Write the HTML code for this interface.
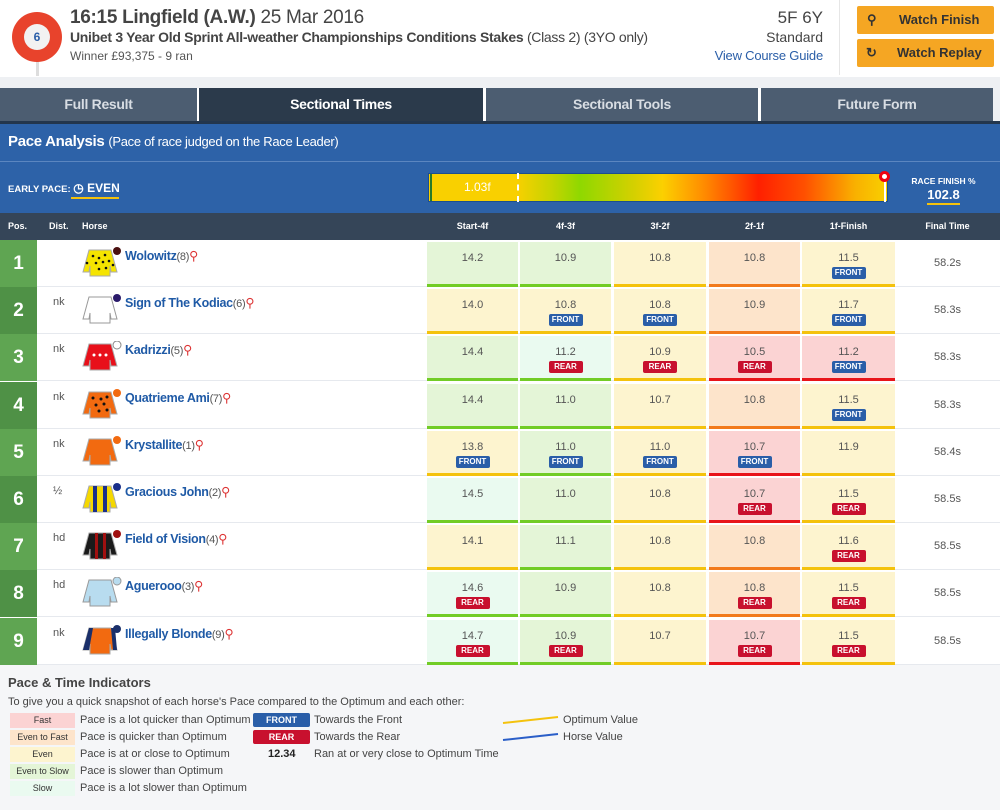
<!DOCTYPE html>
<html><head><meta charset="utf-8">
<style>
*{margin:0;padding:0;box-sizing:border-box}
body{width:1000px;height:810px;position:relative;background:#fff;font-family:"Liberation Sans",sans-serif;overflow:hidden;color:#333}
.a{position:absolute}
.tab{position:absolute;top:88px;height:33px;background:#4c5d71;color:#d8dde3;font-weight:bold;font-size:14px;text-align:center;line-height:33px;letter-spacing:-0.3px}
.hd{position:absolute;top:213px;height:27px;line-height:27px;color:#fff;font-size:9px;font-weight:bold;text-align:center}
.row{position:absolute;left:0;width:1000px;height:47px;background:#fff;border-bottom:1px solid #e6e9ee}
.pos{position:absolute;left:0;top:0;width:37px;height:47px;color:#fff;font-weight:bold;font-size:19px;text-align:center;line-height:47px}
.dst{position:absolute;left:53px;top:9px;font-size:11px;color:#555}
.nm{position:absolute;left:125px;top:8px;font-size:12.5px;font-weight:bold;color:#1f5aa6;letter-spacing:-0.3px}
.nm span{font-weight:normal;color:#555;font-size:11px}
.nm i{font-style:normal;color:#d33;font-weight:normal}
.silk{position:absolute;left:81px;top:7px}
.c{position:absolute;top:2px;height:45px;font-size:11px;color:#555;text-align:center;padding-top:10px}
.c b{display:block;margin:3px auto 0;width:34px;height:12px;line-height:12px;font-size:8px;color:#fff;border-radius:2px}
.F{background:#2a5ea8}.R{background:#c8102e}
.fast{background:#fbd3d3;border-bottom:3px solid #e8141a}
.etf{background:#fde4cb;border-bottom:3px solid #f27a1c}
.ev{background:#fdf4cf;border-bottom:3px solid #f4c20d}
.ets{background:#e4f5d7;border-bottom:3px solid #72cc26}
.sl{background:#eafaf0;border-bottom:3px solid #72cc26}
.ft{position:absolute;left:895px;width:105px;top:17px;text-align:center;font-size:11px;color:#555}
.k1{left:427px;width:91px}.k2{left:520px;width:91px}.k3{left:614px;width:92px}.k4{left:709px;width:91px}.k5{left:802px;width:93px}
.lg{position:absolute;font-size:11px;color:#444}
.lb{position:absolute;left:10px;width:65px;height:15px;font-size:9px;text-align:center;line-height:15px;color:#333}
</style></head><body>
<!-- header -->
<div class="a" style="left:36px;top:40px;width:3px;height:36px;background:#ddd"></div>
<div class="a" style="left:12px;top:12px;width:50px;height:50px;border-radius:50%;background:#e8432c"></div>
<div class="a" style="left:24px;top:24px;width:26px;height:26px;border-radius:50%;background:#f2f2f2;color:#2a5ea8;font-weight:bold;font-size:12px;text-align:center;line-height:26px">6</div>
<div class="a" style="left:70px;top:7px;font-size:19px;color:#444;letter-spacing:-0.3px"><b>16:15 Lingfield (A.W.)</b> 25 Mar 2016</div>
<div class="a" style="left:70px;top:29px;font-size:14px;color:#444;letter-spacing:-0.3px"><b>Unibet 3 Year Old Sprint All-weather Championships Conditions Stakes</b> (Class 2) (3YO only)</div>
<div class="a" style="left:70px;top:49px;font-size:12px;color:#555">Winner £93,375 - 9 ran</div>
<div class="a" style="right:177px;top:8px;font-size:17px;color:#444;text-align:right">5F 6Y</div>
<div class="a" style="right:177px;top:29px;font-size:14px;color:#444;text-align:right">Standard</div>
<div class="a" style="right:177px;top:48px;font-size:13px;color:#2a5ea8;text-align:right;letter-spacing:-0.2px">View Course Guide</div>
<div class="a" style="left:839px;top:0;width:1px;height:75px;background:#e6e6e6"></div>
<div class="a" style="left:857px;top:6px;width:137px;height:28px;background:#f5a623;border-radius:2px;font-weight:bold;font-size:13px;color:#333;line-height:28px"><span style="position:absolute;left:10px">⚲</span><span style="position:absolute;left:42px">Watch Finish</span></div>
<div class="a" style="left:857px;top:39px;width:137px;height:28px;background:#f5a623;border-radius:2px;font-weight:bold;font-size:13px;color:#333;line-height:28px"><span style="position:absolute;left:9px">↻</span><span style="position:absolute;left:40px">Watch Replay</span></div>
<div class="a" style="left:0;top:77px;width:1000px;height:11px;background:#eef0f3"></div>
<!-- tabs -->
<div class="tab" style="left:0;width:197px">Full Result</div>
<div class="tab" style="left:199px;width:284px;background:#2b3a4b;color:#fff">Sectional Times</div>
<div class="tab" style="left:486px;width:272px">Sectional Tools</div>
<div class="tab" style="left:761px;width:232px">Future Form</div>
<div class="a" style="left:993px;top:88px;width:7px;height:33px;background:#eef0f3"></div>
<!-- blue -->
<div class="a" style="left:0;top:121px;width:1000px;height:92px;background:#2d62a8"></div>
<div class="a" style="left:0;top:121px;width:1000px;height:3px;background:#23364d"></div>
<div class="a" style="left:0;top:161px;width:1000px;height:1px;background:#5b86c0"></div>
<div class="a" style="left:8px;top:133px;color:#fff;font-size:15px;letter-spacing:-0.3px"><b>Pace Analysis</b> <span style="font-size:13px">(Pace of race judged on the Race Leader)</span></div>
<div class="a" style="left:8px;top:181px;color:#fff;font-size:9.5px;font-weight:bold">EARLY PACE: <span style="font-size:12px">&#9719; EVEN</span></div>
<div class="a" style="left:71px;top:197px;width:48px;height:2px;background:#f4c20d"></div>
<div class="a" style="left:428px;top:173px;width:460px;height:29px;border:1px solid #1d4f8e;background:linear-gradient(to right,#f9d000 0%,#f9d000 19%,#c4d400 27%,#8fd800 33%,#d6d000 45%,#fcd000 51%,#ff8c00 60%,#ff2000 72%,#ff5000 82%,#f9b000 93%,#f9d000 100%)"></div>
<div class="a" style="left:517px;top:173px;width:0;height:29px;border-left:2px dashed #fff"></div>
<div class="a" style="left:464px;top:180px;color:#fff;font-size:12px">1.03f</div>
<div class="a" style="left:430px;top:174px;width:10px;height:27px;border-left:2px solid #2a7a2a"></div>
<div class="a" style="left:884px;top:174px;width:2px;height:28px;background:#fff"></div>
<div class="a" style="left:879px;top:171px;width:11px;height:11px;border-radius:50%;background:#fff;border:3px solid #e01"></div>
<div class="a" style="left:905px;top:176px;width:77px;color:#fff;font-size:8.5px;font-weight:bold;text-align:center">RACE FINISH %</div>
<div class="a" style="left:905px;top:187px;width:77px;color:#fff;font-size:13px;font-weight:bold;text-align:center">102.8</div>
<div class="a" style="left:927px;top:203px;width:33px;height:2px;background:#f4c20d"></div>
<!-- table header -->
<div class="a" style="left:0;top:213px;width:1000px;height:27px;background:#354558"></div>
<div class="hd" style="left:8px">Pos.</div>
<div class="hd" style="left:49px">Dist.</div>
<div class="hd" style="left:82px">Horse</div>
<div class="hd k1">Start-4f</div><div class="hd k2">4f-3f</div><div class="hd k3">3f-2f</div><div class="hd k4">2f-1f</div><div class="hd k5">1f-Finish</div>
<div class="hd" style="left:895px;width:105px">Final Time</div>

<div class="row" style="top:240px"><div class="pos" style="background:#5fa552">1</div>
<svg class="silk" width="42" height="30"><path d="M8 3h22l6 22h-6l-1-6v10H9V19l-1 6H2z" fill="#f5e400" stroke="#aaa"/><circle cx="36" cy="4" r="4" fill="#4a1010"/><g fill="#111"><circle cx="12" cy="9" r="1.3"/><circle cx="18" cy="11" r="1.3"/><circle cx="24" cy="8" r="1.3"/><circle cx="15" cy="16" r="1.3"/><circle cx="22" cy="15" r="1.3"/><circle cx="28" cy="14" r="1.3"/><circle cx="18" cy="22" r="1.3"/><circle cx="25" cy="21" r="1.3"/><circle cx="6" cy="16" r="1.3"/><circle cx="32" cy="18" r="1.3"/></g></svg>
<div class="nm">Wolowitz<span>(8)</span><i>⚲</i></div>
<div class="c k1 ets">14.2</div><div class="c k2 ets">10.9</div><div class="c k3 ev">10.8</div><div class="c k4 etf">10.8</div><div class="c k5 ev">11.5<b class="F">FRONT</b></div><div class="ft">58.2s</div></div>

<div class="row" style="top:287px"><div class="pos" style="background:#4f9146">2</div><div class="dst">nk</div>
<svg class="silk" width="42" height="30"><path d="M8 3h22l6 22h-6l-1-6v10H9V19l-1 6H2z" fill="#fff" stroke="#999"/><circle cx="36" cy="4" r="4" fill="#2a1a6a"/></svg>
<div class="nm">Sign of The Kodiac<span>(6)</span><i>⚲</i></div>
<div class="c k1 ev">14.0</div><div class="c k2 ev">10.8<b class="F">FRONT</b></div><div class="c k3 ev">10.8<b class="F">FRONT</b></div><div class="c k4 etf">10.9</div><div class="c k5 ev">11.7<b class="F">FRONT</b></div><div class="ft">58.3s</div></div>

<div class="row" style="top:334px"><div class="pos" style="background:#5fa552">3</div><div class="dst">nk</div>
<svg class="silk" width="42" height="30"><path d="M8 3h22l6 22h-6l-1-6v10H9V19l-1 6H2z" fill="#e8101a" stroke="#aaa"/><circle cx="36" cy="4" r="4" fill="#fff" stroke="#888"/><g fill="#fff"><circle cx="13" cy="14" r="1.5"/><circle cx="19" cy="14" r="1.5"/><circle cx="25" cy="14" r="1.5"/></g></svg>
<div class="nm">Kadrizzi<span>(5)</span><i>⚲</i></div>
<div class="c k1 ets">14.4</div><div class="c k2 sl">11.2<b class="R">REAR</b></div><div class="c k3 ev">10.9<b class="R">REAR</b></div><div class="c k4 fast">10.5<b class="R">REAR</b></div><div class="c k5 fast">11.2<b class="F">FRONT</b></div><div class="ft">58.3s</div></div>

<div class="row" style="top:382px"><div class="pos" style="background:#4f9146">4</div><div class="dst">nk</div>
<svg class="silk" width="42" height="30"><path d="M8 3h22l6 22h-6l-1-6v10H9V19l-1 6H2z" fill="#f26a10" stroke="#aaa"/><circle cx="36" cy="4" r="4" fill="#f26a10"/><g fill="#111"><circle cx="12" cy="9" r="1.5"/><circle cx="20" cy="10" r="1.5"/><circle cx="26" cy="8" r="1.5"/><circle cx="15" cy="16" r="1.5"/><circle cx="23" cy="15" r="1.5"/><circle cx="18" cy="22" r="1.5"/><circle cx="26" cy="21" r="1.5"/></g></svg>
<div class="nm">Quatrieme Ami<span>(7)</span><i>⚲</i></div>
<div class="c k1 ets">14.4</div><div class="c k2 ets">11.0</div><div class="c k3 ev">10.7</div><div class="c k4 etf">10.8</div><div class="c k5 ev">11.5<b class="F">FRONT</b></div><div class="ft">58.3s</div></div>

<div class="row" style="top:429px"><div class="pos" style="background:#5fa552">5</div><div class="dst">nk</div>
<svg class="silk" width="42" height="30"><path d="M8 3h22l6 22h-6l-1-6v10H9V19l-1 6H2z" fill="#f26a10" stroke="#aaa"/><circle cx="36" cy="4" r="4" fill="#f26a10"/></svg>
<div class="nm">Krystallite<span>(1)</span><i>⚲</i></div>
<div class="c k1 ev">13.8<b class="F">FRONT</b></div><div class="c k2 ets">11.0<b class="F">FRONT</b></div><div class="c k3 ev">11.0<b class="F">FRONT</b></div><div class="c k4 fast">10.7<b class="F">FRONT</b></div><div class="c k5 ev">11.9</div><div class="ft">58.4s</div></div>

<div class="row" style="top:476px"><div class="pos" style="background:#4f9146">6</div><div class="dst">½</div>
<svg class="silk" width="42" height="30"><path d="M8 3h22l6 22h-6l-1-6v10H9V19l-1 6H2z" fill="#f5d800" stroke="#aaa"/><path d="M12 3h4v26h-4zM22 3h4v26h-4z" fill="#1a2f8a"/><circle cx="36" cy="4" r="4" fill="#1a2f8a"/></svg>
<div class="nm">Gracious John<span>(2)</span><i>⚲</i></div>
<div class="c k1 sl">14.5</div><div class="c k2 ets">11.0</div><div class="c k3 ev">10.8</div><div class="c k4 fast">10.7<b class="R">REAR</b></div><div class="c k5 ev">11.5<b class="R">REAR</b></div><div class="ft">58.5s</div></div>

<div class="row" style="top:523px"><div class="pos" style="background:#5fa552">7</div><div class="dst">hd</div>
<svg class="silk" width="42" height="30"><path d="M8 3h22l6 22h-6l-1-6v10H9V19l-1 6H2z" fill="#1a1a1a" stroke="#aaa"/><path d="M14 3h3v26h-3zM22 3h3v26h-3z" fill="#a01010"/><circle cx="36" cy="4" r="4" fill="#a01010"/></svg>
<div class="nm">Field of Vision<span>(4)</span><i>⚲</i></div>
<div class="c k1 ev">14.1</div><div class="c k2 ets">11.1</div><div class="c k3 ev">10.8</div><div class="c k4 etf">10.8</div><div class="c k5 ev">11.6<b class="R">REAR</b></div><div class="ft">58.5s</div></div>

<div class="row" style="top:570px"><div class="pos" style="background:#4f9146">8</div><div class="dst">hd</div>
<svg class="silk" width="42" height="30"><path d="M8 3h22l6 22h-6l-1-6v10H9V19l-1 6H2z" fill="#b8dcef" stroke="#999"/><circle cx="36" cy="4" r="4" fill="#b8dcef" stroke="#999"/></svg>
<div class="nm">Aguerooo<span>(3)</span><i>⚲</i></div>
<div class="c k1 sl">14.6<b class="R">REAR</b></div><div class="c k2 ets">10.9</div><div class="c k3 ev">10.8</div><div class="c k4 etf">10.8<b class="R">REAR</b></div><div class="c k5 ev">11.5<b class="R">REAR</b></div><div class="ft">58.5s</div></div>

<div class="row" style="top:618px"><div class="pos" style="background:#5fa552">9</div><div class="dst">nk</div>
<svg class="silk" width="42" height="30"><path d="M8 3h22l6 22h-6l-1-6v10H9V19l-1 6H2z" fill="#f26a10" stroke="#aaa"/><path d="M2 25l6-22h4L8 25zM30 3h4l2 22h-4z" fill="#1a2f6a"/><circle cx="36" cy="4" r="4" fill="#1a2f6a"/></svg>
<div class="nm">Illegally Blonde<span>(9)</span><i>⚲</i></div>
<div class="c k1 sl">14.7<b class="R">REAR</b></div><div class="c k2 ets">10.9<b class="R">REAR</b></div><div class="c k3 ev">10.7</div><div class="c k4 fast">10.7<b class="R">REAR</b></div><div class="c k5 ev">11.5<b class="R">REAR</b></div><div class="ft">58.5s</div></div>

<!-- legend -->
<div class="a" style="left:0;top:665px;width:1000px;height:145px;background:#f5f6f8"></div>
<div class="lg" style="left:8px;top:675px;font-size:13px;font-weight:bold;color:#444">Pace &amp; Time Indicators</div>
<div class="lg" style="left:8px;top:696px">To give you a quick snapshot of each horse's Pace compared to the Optimum and each other:</div>
<div class="lb" style="top:713px;background:#fbd3d3">Fast</div><div class="lg" style="left:80px;top:714px">Pace is a lot quicker than Optimum</div>
<div class="lb" style="top:730px;background:#fde4cb">Even to Fast</div><div class="lg" style="left:80px;top:731px">Pace is quicker than Optimum</div>
<div class="lb" style="top:747px;background:#fdf4cf">Even</div><div class="lg" style="left:80px;top:748px">Pace is at or close to Optimum</div>
<div class="lb" style="top:764px;background:#e4f5d7">Even to Slow</div><div class="lg" style="left:80px;top:765px">Pace is slower than Optimum</div>
<div class="lb" style="top:781px;background:#eafaf0">Slow</div><div class="lg" style="left:80px;top:782px">Pace is a lot slower than Optimum</div>
<div class="a F" style="left:253px;top:713px;width:57px;height:14px;color:#fff;font-size:9px;font-weight:bold;text-align:center;line-height:14px;border-radius:2px">FRONT</div><div class="lg" style="left:314px;top:714px">Towards the Front</div>
<div class="a R" style="left:253px;top:730px;width:57px;height:14px;color:#fff;font-size:9px;font-weight:bold;text-align:center;line-height:14px;border-radius:2px">REAR</div><div class="lg" style="left:314px;top:731px">Towards the Rear</div>
<div class="lg" style="left:268px;top:748px;font-weight:bold;color:#222">12.34</div><div class="lg" style="left:314px;top:748px">Ran at or very close to Optimum Time</div>
<svg class="a" style="left:500px;top:712px" width="62" height="36"><line x1="3" y1="11" x2="58" y2="5" stroke="#f4c20d" stroke-width="2"/><line x1="3" y1="28" x2="58" y2="22" stroke="#2a5ec8" stroke-width="2"/></svg>
<div class="lg" style="left:563px;top:714px">Optimum Value</div>
<div class="lg" style="left:563px;top:731px">Horse Value</div>
</body></html>
